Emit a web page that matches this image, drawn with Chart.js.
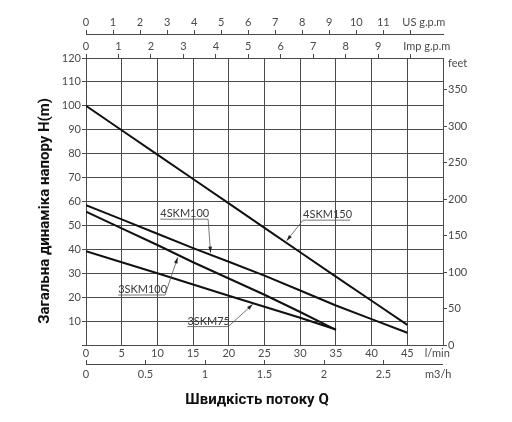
<!DOCTYPE html>
<html><head><meta charset="utf-8">
<script src="https://cdn.jsdelivr.net/npm/chart.js@4/dist/chart.umd.min.js"></script>
<style>html,body{margin:0;padding:0;background:#fff;overflow:hidden}</style>
</head><body>
<canvas id="c" width="512" height="422" style="display:block;width:512px;height:422px"></canvas>
<script>
// ---- data ----
const flowLmin    = [0, 5, 10, 15, 20, 25, 30, 35, 40, 45];
const head4SKM150 = [100, 89.8, 79.6, 69.4, 59.2, 49.0, 38.8, 28.6, 18.5, 8.4];
const head4SKM100 = [58.5, 52.5, 46.5, 40.5, 34.8, 29.0, 22.8, 16.5, 10.8, 5.1];
const head3SKM100 = [55.8, 48.8, 41.8, 34.6, 27.8, 21.0, 13.8, 6.3];
const head3SKM75  = [39.2, 34.6, 30.0, 25.3, 20.6, 16.0, 11.4, 6.5];
const seriesNames = ['4SKM150', '4SKM100', '3SKM100', '3SKM75'];

const lminTicks = [0, 5, 10, 15, 20, 25, 30, 35, 40, 45];
const m3hTicks  = ['0', '0.5', '1', '1.5', '2', '2.5'];
const impTicks  = [0, 1, 2, 3, 4, 5, 6, 7, 8, 9];
const usTicks   = [0, 1, 2, 3, 4, 5, 6, 7, 8, 9, 10, 11];
const headTicks = [10, 20, 30, 40, 50, 60, 70, 80, 90, 100, 110, 120];
const feetTicks = [0, 50, 100, 150, 200, 250, 300, 350];
const unitLmin = 'l/min', unitM3h = 'm3/h', unitImp = 'Imp g.p.m', unitUS = 'US g.p.m', unitFeet = 'feet';
const titleY = 'Загальна динаміка напору H(m)';
const titleX = 'Швидкість потоку Q';

// unit conversions
const L_PER_USGAL = 3.78541, L_PER_IMPGAL = 4.54609, FT_PER_M = 3.28084, LMIN_PER_M3H = 1000 / 60;
const FLOW_MAX = 50, HEAD_MAX = 120;

// ---- styles ----
const TICK_FONT = {family: 'Lato', size: 11};
const TICK_COLOR = '#4a4a4a';
const GRID = '#4a4a4a';
const INK = '#111';
const NB = '\u00a0';

function pts(vals) { return vals.map((v, i) => ({x: flowLmin[i], y: v})); }
function tickList(vals, extra) {
  const t = vals.map(v => ({value: +v, label: String(v)}));
  extra.forEach(e => t.push(e));
  return t.sort((a, b) => a.value - b.value);
}
function setTicks(list) {
  return (scale) => { scale.ticks = list.map(t => ({value: t.value, label: t.label})); };
}
function hideAt(hidden, color) {
  return (ctx) => (ctx.tick && hidden.includes(ctx.tick.value)) ? 'rgba(0,0,0,0)' : color;
}

const xList    = tickList(lminTicks, [{value: 50, label: ''}, {value: 49.2, label: unitLmin}]);
const m3hList  = tickList(m3hTicks, [{value: 2.96, label: unitM3h}]);
const impList  = tickList(impTicks, [{value: 10, label: ''}, {value: 10.5, label: unitImp}]);
const usList   = tickList(usTicks, [{value: 12, label: ''}, {value: 12.5, label: unitUS}]);
const headList = tickList(headTicks, [{value: 0, label: ''}]);
const feetList = tickList(feetTicks, [{value: 386, label: unitFeet}]);

const annotations = [
  {name: '4SKM100', x0: 10.4, x1: 17.1, y: 52.6, from: 'end',   tipX: 17.45, tipY: 38.6},
  {name: '4SKM150', x0: 30.4, x1: 37.0, y: 52.2, from: 'start', tipX: 28.1,  tipY: 43.6},
  {name: '3SKM100', x0: 4.5,  x1: 11.06, y: 20.9, from: 'end',  tipX: 12.84, tipY: 36.6},
  {name: '3SKM75',  x0: 14.2, x1: 19.93, y: 7.7,  from: 'end',  tipX: 23.35, tipY: 17.0}
];

const annotationPlugin = {
  id: 'leaders',
  afterDatasetsDraw(chart) {
    const {ctx, scales: {x, y}} = chart;
    ctx.save();
    annotations.forEach(a => {
      const px0 = x.getPixelForValue(a.x0), px1 = x.getPixelForValue(a.x1), py = y.getPixelForValue(a.y);
      ctx.fillStyle = '#3a3a3a';
      ctx.font = '11px Lato';
      ctx.textAlign = 'left';
      ctx.textBaseline = 'alphabetic';
      ctx.fillText(a.name, px0, py - 2);
      ctx.strokeStyle = '#555';
      ctx.lineWidth = 0.8;
      ctx.beginPath(); ctx.moveTo(px0, py); ctx.lineTo(px1, py); ctx.stroke();
      const sx = a.from === 'end' ? px1 : px0;
      const tx = x.getPixelForValue(a.tipX), ty = y.getPixelForValue(a.tipY);
      ctx.beginPath(); ctx.moveTo(sx, py); ctx.lineTo(tx, ty); ctx.stroke();
      const ang = Math.atan2(ty - py, tx - sx), L = 6, W = 1.8;
      ctx.fillStyle = '#222';
      ctx.beginPath();
      ctx.moveTo(tx, ty);
      ctx.lineTo(tx - L * Math.cos(ang) + W * Math.sin(ang), ty - L * Math.sin(ang) - W * Math.cos(ang));
      ctx.lineTo(tx - L * Math.cos(ang) - W * Math.sin(ang), ty - L * Math.sin(ang) + W * Math.cos(ang));
      ctx.closePath(); ctx.fill();
    });
    // m3/h axis line (ticks stand on it)
    const s = chart.scales.m3h;
    ctx.strokeStyle = GRID; ctx.lineWidth = 1;
    ctx.beginPath(); ctx.moveTo(s.left, s.top + 4.5); ctx.lineTo(s.right, s.top + 4.5); ctx.stroke();
    ctx.restore();
  }
};

const lineStyle = {borderColor: INK, borderWidth: 2, pointRadius: 0, tension: 0, fill: false, xAxisID: 'x', yAxisID: 'y'};

new Chart(document.getElementById('c'), {
  type: 'line',
  data: {
    datasets: [
      {label: seriesNames[0], data: pts(head4SKM150), ...lineStyle},
      {label: seriesNames[1], data: pts(head4SKM100), ...lineStyle},
      {label: seriesNames[2], data: pts(head3SKM100), ...lineStyle},
      {label: seriesNames[3], data: pts(head3SKM75), ...lineStyle}
    ]
  },
  options: {
    responsive: false,
    animation: false,
    layout: {padding: 0},
    plugins: {legend: {display: false}, tooltip: {enabled: false}},
    scales: {
      x: {
        type: 'linear', position: 'bottom', min: 0, max: FLOW_MAX, weight: 0,
        afterBuildTicks: setTicks(xList),
        afterFit: s => { s.height = 15; },
        ticks: {autoSkip: false, maxRotation: 0, padding: 2, font: TICK_FONT, color: TICK_COLOR, callback: (v, i, t) => t[i].label},
        grid: {color: hideAt([49.2], GRID), lineWidth: 1, drawTicks: false},
        border: {color: GRID, width: 1}
      },
      m3h: {
        type: 'linear', position: 'bottom', min: 0, max: FLOW_MAX / LMIN_PER_M3H, weight: 1,
        afterBuildTicks: setTicks(m3hList),
        afterFit: s => { s.height = 62; },
        ticks: {autoSkip: false, maxRotation: 0, padding: 4, font: TICK_FONT, color: TICK_COLOR, callback: (v, i, t) => t[i].label},
        grid: {drawOnChartArea: false, tickLength: 4, color: hideAt([2.96], GRID)},
        border: {display: false},
        title: {display: true, text: titleX + NB.repeat(4), color: INK, font: {family: 'Roboto', weight: 'bold', size: 15}, padding: {top: 0, bottom: 13}}
      },
      imp: {
        type: 'linear', position: 'top', min: 0, max: FLOW_MAX / L_PER_IMPGAL, weight: 0,
        afterBuildTicks: setTicks(impList),
        afterFit: s => { s.height = 24; },
        ticks: {autoSkip: false, maxRotation: 0, padding: 1, font: TICK_FONT, color: TICK_COLOR, callback: (v, i, t) => t[i].label},
        grid: {drawOnChartArea: false, tickLength: 4, color: hideAt([10.5], GRID)},
        border: {color: GRID, width: 1}
      },
      us: {
        type: 'linear', position: 'top', min: 0, max: FLOW_MAX / L_PER_USGAL, weight: 1,
        afterBuildTicks: setTicks(usList),
        afterFit: s => { s.height = 34; },
        ticks: {autoSkip: false, maxRotation: 0, padding: 1, font: TICK_FONT, color: TICK_COLOR, callback: (v, i, t) => t[i].label},
        grid: {drawOnChartArea: false, tickLength: 4, color: hideAt([12.5], GRID)},
        border: {color: GRID, width: 1}
      },
      y: {
        type: 'linear', position: 'left', min: 0, max: HEAD_MAX,
        afterBuildTicks: setTicks(headList),
        afterFit: s => { s.width = 86; },
        ticks: {autoSkip: false, padding: 1, font: TICK_FONT, color: TICK_COLOR, callback: (v, i, t) => t[i].label},
        grid: {color: GRID, lineWidth: 1, tickLength: 4},
        border: {color: GRID, width: 1},
        title: {display: true, text: titleY + NB.repeat(5), color: INK, font: {family: 'Roboto', weight: 'bold', size: 15}, padding: {top: 36, bottom: 0}}
      },
      feet: {
        type: 'linear', position: 'right', min: 0, max: HEAD_MAX * FT_PER_M,
        afterBuildTicks: setTicks(feetList),
        afterFit: s => { s.width = 69; },
        ticks: {autoSkip: false, padding: 1, font: TICK_FONT, color: TICK_COLOR, callback: (v, i, t) => t[i].label},
        grid: {drawOnChartArea: false, tickLength: 4, color: hideAt([386], GRID)},
        border: {color: GRID, width: 1}
      }
    }
  },
  plugins: [annotationPlugin]
});
</script>
</body></html>
